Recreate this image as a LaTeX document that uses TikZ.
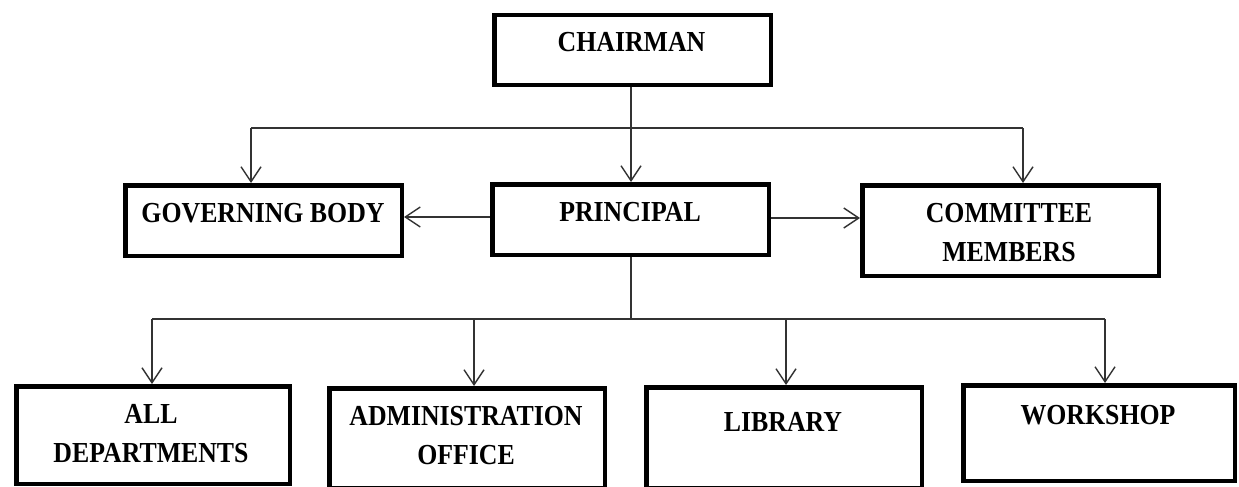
\documentclass[tikz,border=0pt]{standalone}
\usepackage{fontspec}
\setmainfont{Liberation Serif}[FakeStretch=0.89]
\usetikzlibrary{arrows.meta}
\begin{document}
\begin{tikzpicture}[x=1pt,y=-1pt,
  box/.style={draw=black,line width=4.5pt,inner sep=0pt,rectangle},
  lbl/.style={font=\fontsize{29}{39}\selectfont\bfseries,align=center,inner sep=0pt},
  conn/.style={draw=black!80,line width=1.4pt},
  arr/.style={conn,-{Straight Barb[length=15pt,width=20pt,line width=1.4pt]}}]
\useasboundingbox (0,0) rectangle (1239,487);
% boxes
\node[box,minimum width=276.5pt,minimum height=69.5pt] (CH) at (632.5,50) {};
\node[box,minimum width=276.5pt,minimum height=70.5pt] (GB) at (263.5,220.5) {};
\node[box,minimum width=276.5pt,minimum height=70.5pt] (PR) at (630.5,219.5) {};
\node[box,minimum width=296.5pt,minimum height=90.5pt] (CM) at (1010.5,230.5) {};
\node[box,minimum width=273.5pt,minimum height=97.5pt] (AD) at (153,435) {};
\node[box,minimum width=275.5pt,minimum height=99.5pt] (AO) at (467,438) {};
\node[box,minimum width=275.5pt,minimum height=100.5pt] (LB) at (784,437.5) {};
\node[box,minimum width=271.5pt,minimum height=95.5pt] (WS) at (1099,433) {};
% labels
\node[lbl] (tCH) at (631.5,42) {CHAIRMAN};
\node[lbl] (tGB) at (263,213) {GOVERNING BODY};
\node[lbl] (tPR) at (630,212) {PRINCIPAL};
\node[lbl] (tCM) at (1009,232.5) {COMMITTEE\\MEMBERS};
\node[lbl] (tAD) at (151,434) {ALL\\DEPARTMENTS};
\node[lbl] (tAO) at (466,436) {ADMINISTRATION\\OFFICE};
\node[lbl] (tLB) at (783,422) {LIBRARY};
\node[lbl] (tWS) at (1098,415) {WORKSHOP};
% bus coordinates
\coordinate (busA) at (631,128);
\coordinate (busAL) at (251,128);
\coordinate (busAR) at (1023,128);
\coordinate (busB) at (631,319);
\coordinate (b1) at (152,319);
\coordinate (b2) at (474,319);
\coordinate (b3) at (786,319);
\coordinate (b4) at (1105,319);
% top connectors
\draw[arr] (busA |- CH.south) -- (busA |- PR.north);
\draw[conn] (busAL) -- (busAR);
\draw[arr] (busAL) -- (busAL |- GB.north);
\draw[arr] (busAR) -- (busAR |- CM.north);
\draw[arr] (PR.west |- 0,217) -- (GB.east |- 0,217);
\draw[arr] (PR.east |- 0,218) -- (CM.west |- 0,218);
% bottom connectors
\draw[conn] (busB |- PR.south) -- (busB);
\draw[conn] (b1) -- (b4);
\draw[arr] (b1) -- (b1 |- AD.north);
\draw[arr] (b2) -- (b2 |- AO.north);
\draw[arr] (b3) -- (b3 |- LB.north);
\draw[arr] (b4) -- (b4 |- WS.north);
\end{tikzpicture}
\end{document}
